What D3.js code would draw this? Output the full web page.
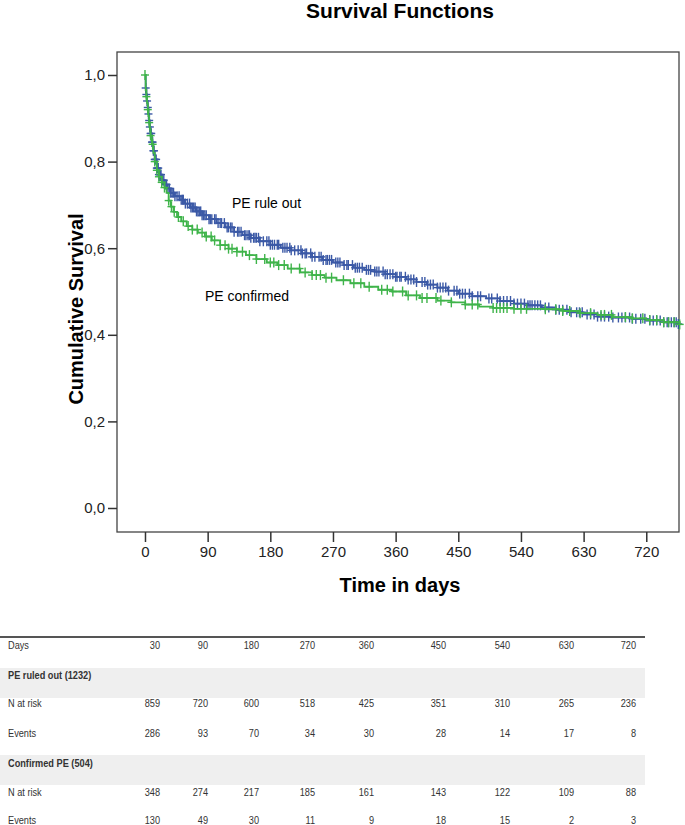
<!DOCTYPE html>
<html><head><meta charset="utf-8">
<script src="https://cdn.jsdelivr.net/npm/d3@7"></script>
<style>body{margin:0;background:#fff}svg{display:block}</style>
</head><body>
<svg id="c" width="685" height="825"></svg>
<script>
// ---------- data ----------
const ruleOutTimes = [0,1,2,3,4,5,6,7,8,10,12,14,17,20,24,28,32,37,43,50,57,65,73,82,92,103,115,128,140,152,165,180,195,210,225,240,255,270,285,300,315,330,345,360,375,390,405,420,435,450,470,490,510,530,550,570,590,610,630,650,670,700,720,745,765];
const ruleOutSurv = [1.0,0.97,0.955,0.94,0.925,0.91,0.895,0.88,0.865,0.845,0.825,0.805,0.785,0.77,0.757,0.747,0.738,0.728,0.72,0.712,0.703,0.694,0.685,0.676,0.667,0.658,0.648,0.638,0.63,0.624,0.616,0.608,0.601,0.595,0.588,0.58,0.573,0.567,0.561,0.555,0.55,0.546,0.54,0.534,0.528,0.522,0.516,0.509,0.502,0.495,0.489,0.484,0.478,0.472,0.468,0.463,0.458,0.452,0.447,0.442,0.44,0.437,0.433,0.429,0.425];
const ruleOutCensored = [1,2,3,4,5,6,7,8,9,10,11,12,13,14,15,16,17,18,19,20,21,22,23,25,27,29,31,33,35,37,39,41,43,46,49,52,54,55,58,61,64,66,68,70,72,74,76,78,80,82,84,86,88,92,94,96,100,102,105,108,110,114,118,120,123,125,128,133,135,138,143,145,148,150,152,156,158,160,163,165,170,175,178,180,183,186,190,192,198,201,204,208,210,215,220,224,226,230,232,238,240,244,250,253,256,260,262,265,268,274,277,280,286,290,292,298,302,305,308,312,318,321,324,330,333,336,342,345,348,352,356,360,362,366,368,374,378,382,386,390,398,402,406,410,414,420,424,428,432,436,444,448,452,456,460,466,470,478,482,494,498,506,510,515,520,525,530,535,540,545,550,553,556,560,564,568,575,580,590,595,600,606,612,620,624,628,635,640,645,650,655,660,666,672,680,685,690,696,700,705,712,718,725,730,735,740,745,750,752,756,760,763,766];

const confTimes = [0,1,2,3,4,5,6,7,8,10,12,14,17,20,24,28,31,34,37,41,46,52,60,68,76,86,96,108,120,132,145,160,175,190,205,223,240,258,275,295,315,335,355,375,395,420,440,460,480,500,530,575,600,625,650,672,700,720,745,768];
const confSurv = [1.0,0.965,0.95,0.935,0.92,0.905,0.89,0.875,0.86,0.84,0.82,0.8,0.78,0.765,0.752,0.74,0.728,0.71,0.696,0.684,0.672,0.662,0.651,0.643,0.636,0.627,0.618,0.607,0.599,0.592,0.584,0.575,0.567,0.561,0.553,0.544,0.538,0.532,0.526,0.519,0.511,0.504,0.5,0.491,0.485,0.479,0.475,0.47,0.465,0.462,0.46,0.459,0.455,0.45,0.446,0.441,0.438,0.434,0.429,0.424];
const confCensored = [0,2,4,6,8,11,14,17,20,24,28,34,38,42,48,55,62,68,75,82,88,95,100,108,115,120,125,132,140,150,160,172,180,185,192,200,210,222,230,240,246,252,260,268,285,300,310,322,340,348,356,370,378,390,398,405,418,425,440,460,470,478,500,505,510,515,520,530,540,548,575,590,600,610,625,640,655,660,670,690,700,715,725,735,745,752,760,768];

const xTicks = [0,90,180,270,360,450,540,630,720];
const yTicks = [0,0.2,0.4,0.6,0.8,1.0];

const tableDays = [30,90,180,270,360,450,540,630,720];
const ruledOutRisk = [859,720,600,518,425,351,310,265,236];
const ruledOutEvents = [286,93,70,34,30,28,14,17,8];
const confRisk = [348,274,217,185,161,143,122,109,88];
const confEvents = [130,49,30,11,9,18,15,2,3];

// ---------- layout ----------
const frame = {l:117, t:52, r:679, b:532};
const svg = d3.select("#c");
const FONT = "'Liberation Sans', Arial, sans-serif";
const BLUE = "#3b59a6", GREEN = "#3fb44a";

const x = d3.scaleLinear().domain([-40.2, 767]).range([frame.l, frame.r]);
const y = d3.scaleLinear().domain([0, 1]).range([508, 75]);

// title
svg.append("text").attr("x", 400).attr("y", 18).attr("text-anchor","middle")
  .attr("font-family", FONT).attr("font-weight","bold").attr("font-size", 21).text("Survival Functions");

// frame
svg.append("rect").attr("x", frame.l).attr("y", frame.t)
  .attr("width", frame.r-frame.l).attr("height", frame.b-frame.t)
  .attr("fill","none").attr("stroke","#444").attr("stroke-width",1.3);

// axes
const xAxis = svg.append("g").attr("transform", `translate(0,${frame.b})`)
  .call(d3.axisBottom(x).tickValues(xTicks).tickSize(10).tickPadding(4).tickFormat(d3.format("d")));
const yAxis = svg.append("g").attr("transform", `translate(${frame.l},0)`)
  .call(d3.axisLeft(y).tickValues(yTicks).tickSize(9).tickPadding(3).tickFormat(d => d.toFixed(1).replace(".", ",")));
[xAxis, yAxis].forEach(g => {
  g.select(".domain").remove();
  g.selectAll("line").attr("stroke","#333").attr("stroke-width",1.5);
  g.selectAll("text").attr("font-family", FONT).attr("font-size", 15).attr("fill","#222");
});

// axis titles
svg.append("text").attr("x", 400).attr("y", 592).attr("text-anchor","middle")
  .attr("font-family", FONT).attr("font-weight","bold").attr("font-size", 20).text("Time in days");
svg.append("text").attr("transform","translate(83,309) rotate(-90)").attr("text-anchor","middle")
  .attr("font-family", FONT).attr("font-weight","bold").attr("font-size", 20).text("Cumulative Survival");

// curves
const line = d3.line().x(d => x(d[0])).y(d => y(d[1])).curve(d3.curveStepAfter);
function survAt(times, surv, t){ const i = d3.bisectRight(times, t) - 1; return surv[Math.max(0,i)]; }
function drawSeries(times, surv, cens, color){
  const pts = times.map((t,i) => [t, surv[i]]);
  svg.append("path").attr("d", line(pts)).attr("fill","none").attr("stroke", color).attr("stroke-width",1.8);
  const g = svg.append("g").attr("stroke", color).attr("stroke-width",1.4);
  cens.forEach(t => {
    const cx = x(t), cy = y(survAt(times, surv, t));
    g.append("line").attr("x1", cx-4).attr("x2", cx+4).attr("y1", cy).attr("y2", cy);
    g.append("line").attr("x1", cx).attr("x2", cx).attr("y1", cy-5).attr("y2", cy+5);
  });
}
drawSeries(ruleOutTimes, ruleOutSurv, ruleOutCensored, BLUE);
drawSeries(confTimes, confSurv, confCensored, GREEN);

// labels
svg.append("text").attr("x", 232).attr("y", 208).attr("font-family", FONT).attr("font-size", 14).text("PE rule out");
svg.append("text").attr("x", 205).attr("y", 301).attr("font-family", FONT).attr("font-size", 14).text("PE confirmed");

// ---------- table ----------
const colRight = [160,208,259,315,374,446,510,574,636];
const tbl = svg.append("g").attr("font-family", FONT).attr("font-size", 11.5).attr("fill","#333");
tbl.append("rect").attr("x",0).attr("y",668).attr("width",645).attr("height",30).attr("fill","#efefef");
tbl.append("rect").attr("x",0).attr("y",755).attr("width",645).attr("height",30).attr("fill","#efefef");
tbl.append("line").attr("x1",0).attr("x2",645).attr("y1",637).attr("y2",637).attr("stroke","#555").attr("stroke-width",2);

const rows = [
  {label:"Days", vals:tableDays, y:649},
  {label:"PE ruled out (1232)", bold:true, y:679},
  {label:"N at risk", vals:ruledOutRisk, y:707},
  {label:"Events", vals:ruledOutEvents, y:737},
  {label:"Confirmed PE (504)", bold:true, y:767},
  {label:"N at risk", vals:confRisk, y:796},
  {label:"Events", vals:confEvents, y:824}
];
const SX = 0.8;
function cell(px, py, txt, anchor, bold){
  tbl.append("text").attr("transform", `translate(${px},${py}) scale(${SX},1)`)
    .attr("text-anchor", anchor).attr("font-weight", bold ? "bold" : "normal").text(txt);
}
rows.forEach(r => {
  cell(8, r.y, r.label, "start", r.bold);
  if (r.vals) r.vals.forEach((v,i) => cell(colRight[i], r.y, v, "end", false));
});
</script>
</body></html>
